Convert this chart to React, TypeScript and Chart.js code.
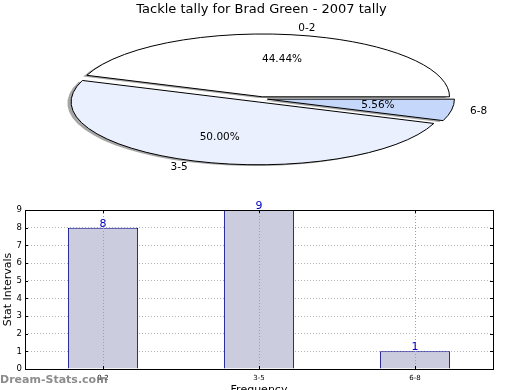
import React, { useEffect, useRef } from "react";
import { Chart, registerables } from "chart.js";

Chart.register(...registerables);

// ---- data ----
const TITLE = "Tackle tally for Brad Green - 2007 tally";
const categories = ["0-2", "3-5", "6-8"];
const counts = [8, 9, 1];
const yTickValues = [0, 1, 2, 3, 4, 5, 6, 7, 8, 9];
const X_TITLE = "Frequency";
const Y_TITLE = "Stat Intervals";
const WATERMARK = "Dream-Stats.com";

// ---- styles ----
const FONT = "'DejaVu Sans', 'Liberation Sans', sans-serif";
const pieColors = ["#ffffff", "#eaf0fd", "#c5d8fc"];
const pieExplode = [6, 10, 6];
const PIE_RADIUS = 187;
const ELLIPSE_K = 0.336;
const SHADOW_DX = -3.7;
const SHADOW_DY = 1.3;
const BAR_FILL = "#ccccdf";
const BAR_EDGE = "#00008b";
const VALUE_COLOR = "#0000c0";

const pieLabels = [...categories].reverse();
const pieValues = [...counts].reverse();
const pieFill = [...pieColors].reverse();
const pieExp = [...pieExplode].reverse();

function ellipseTransform(ctx: CanvasRenderingContext2D, cx: number, cy: number, mid: number, e: number) {
  ctx.translate(cx, cy);
  ctx.scale(1, ELLIPSE_K);
  ctx.translate(Math.cos(mid) * e, Math.sin(mid) * e);
  ctx.translate(-cx, -cy);
}

const ellipsePiePlugin = {
  id: "ellipsePie",
  beforeDatasetsDraw(chart: any) {
    const ctx: CanvasRenderingContext2D = chart.ctx;
    const meta = chart.getDatasetMeta(0);
    const arcs = meta.data;
    const slicePath = (arc: any, i: number, dx: number, dy: number) => {
      const { x, y, startAngle, endAngle, outerRadius } = arc;
      const mid = (startAngle + endAngle) / 2;
      ctx.save();
      ctx.translate(dx, dy);
      ellipseTransform(ctx, x, y, mid, pieExp[i]);
      ctx.beginPath();
      ctx.moveTo(x, y);
      ctx.arc(x, y, outerRadius, startAngle, endAngle);
      ctx.closePath();
      ctx.restore();
    };
    // shadows
    arcs.forEach((arc: any, i: number) => {
      slicePath(arc, i, SHADOW_DX, SHADOW_DY);
      ctx.fillStyle = "rgba(77,77,77,0.5)";
      ctx.fill();
    });
    // slices + outlines
    arcs.forEach((arc: any, i: number) => {
      const mid = (arc.startAngle + arc.endAngle) / 2;
      ctx.save();
      ellipseTransform(ctx, arc.x, arc.y, mid, pieExp[i]);
      arc.draw(ctx);
      ctx.restore();
      slicePath(arc, i, 0, 0);
      ctx.lineWidth = 1;
      ctx.strokeStyle = "#000";
      ctx.lineJoin = "round";
      ctx.stroke();
    });
    // labels
    const total = pieValues.reduce((a, b) => a + b, 0);
    arcs.forEach((arc: any, i: number) => {
      const { x, y, startAngle, endAngle, outerRadius } = arc;
      const mid = (startAngle + endAngle) / 2;
      const c = Math.cos(mid);
      const s = Math.sin(mid);
      const cx = x + c * pieExp[i];
      const cy = y + s * pieExp[i] * ELLIPSE_K;
      ctx.font = `10.5px ${FONT}`;
      ctx.fillStyle = "#000";
      ctx.textBaseline = "middle";
      ctx.textAlign = c > 0 ? "left" : "right";
      ctx.fillText(pieLabels[i], cx + c * 1.1 * outerRadius, cy + s * 1.1 * outerRadius * ELLIPSE_K);
      ctx.textAlign = "center";
      const pct = ((pieValues[i] / total) * 100).toFixed(2) + "%";
      ctx.fillText(pct, cx + c * 0.6 * outerRadius, cy + s * 0.6 * outerRadius * ELLIPSE_K);
    });
    return false;
  },
};

const barFramePlugin = {
  id: "mplFrame",
  afterDatasetsDraw(chart: any) {
    const ctx: CanvasRenderingContext2D = chart.ctx;
    const { top, bottom } = chart.chartArea;
    const xs = chart.scales.x;
    ctx.save();
    ctx.strokeStyle = "#a0a0a0";
    ctx.lineWidth = 1;
    ctx.setLineDash([1, 2]);
    categories.forEach((_, i) => {
      const px = Math.round(xs.getPixelForValue(i)) + 0.5;
      ctx.beginPath();
      ctx.moveTo(px, top);
      ctx.lineTo(px, bottom);
      ctx.stroke();
    });
    ctx.restore();
  },
  afterDraw(chart: any) {
    const ctx: CanvasRenderingContext2D = chart.ctx;
    const { left, right, top, bottom } = chart.chartArea;
    const xs = chart.scales.x;
    const ys = chart.scales.y;
    ctx.save();
    // ticks (inward)
    ctx.strokeStyle = "#000";
    ctx.lineWidth = 1;
    yTickValues.forEach((v) => {
      const py = Math.round(ys.getPixelForValue(v)) + 0.5;
      ctx.beginPath();
      ctx.moveTo(left, py);
      ctx.lineTo(left + 3, py);
      ctx.moveTo(right, py);
      ctx.lineTo(right - 3, py);
      ctx.stroke();
    });
    categories.forEach((_, i) => {
      const px = Math.round(xs.getPixelForValue(i)) + 0.5;
      ctx.beginPath();
      ctx.moveTo(px, bottom);
      ctx.lineTo(px, bottom - 3);
      ctx.moveTo(px, top);
      ctx.lineTo(px, top + 3);
      ctx.stroke();
    });
    // frame
    ctx.strokeRect(Math.round(left) + 0.5, Math.round(top) + 0.5, Math.round(right - left), Math.round(bottom - top));
    // value labels
    ctx.font = `11px ${FONT}`;
    ctx.fillStyle = VALUE_COLOR;
    ctx.textAlign = "center";
    ctx.textBaseline = "bottom";
    counts.forEach((v, i) => {
      ctx.fillText(String(v), xs.getPixelForValue(i), ys.getPixelForValue(v) + 1.5);
    });
    // watermark
    ctx.font = `bold 11px ${FONT}`;
    ctx.fillStyle = "rgba(120,120,120,0.85)";
    ctx.textAlign = "left";
    ctx.textBaseline = "middle";
    ctx.fillText(WATERMARK, 0, bottom + 11);
    ctx.restore();
  },
};

export default function App() {
  const pieRef = useRef<HTMLCanvasElement | null>(null);
  const barRef = useRef<HTMLCanvasElement | null>(null);

  useEffect(() => {
    const pie = new Chart(pieRef.current as HTMLCanvasElement, {
      type: "pie",
      data: {
        labels: pieLabels,
        datasets: [
          {
            data: pieValues,
            backgroundColor: pieFill,
            borderWidth: 0,
            radius: PIE_RADIUS,
          } as any,
        ],
      },
      options: {
        responsive: false,
        animation: false,
        rotation: 90,
        layout: { padding: { left: 3, right: 0, top: 0, bottom: 15 } },
        plugins: {
          legend: { display: false },
          tooltip: { enabled: false },
          title: {
            display: true,
            text: TITLE,
            color: "#000",
            font: { family: FONT, size: 13, weight: "normal" },
            padding: { top: 2, bottom: 0 },
          },
        },
      } as any,
      plugins: [ellipsePiePlugin],
    });

    const bar = new Chart(barRef.current as HTMLCanvasElement, {
      type: "bar",
      data: {
        labels: categories,
        datasets: [
          {
            data: counts,
            backgroundColor: BAR_FILL,
            borderColor: BAR_EDGE,
            borderWidth: 1,
            barPercentage: 0.45,
            categoryPercentage: 1,
          },
        ],
      },
      options: {
        responsive: false,
        animation: false,
        layout: { padding: { left: 0, right: 27, top: 15, bottom: 0 } },
        plugins: {
          legend: { display: false },
          tooltip: { enabled: false },
        },
        scales: {
          x: {
            offset: true,
            grid: { display: false, drawTicks: false },
            border: { display: false },
            ticks: {
              color: "#000",
              font: { family: FONT, size: 7 },
              padding: 5,
              maxRotation: 0,
              autoSkip: false,
            },
            title: {
              display: true,
              text: X_TITLE,
              color: "#000",
              font: { family: FONT, size: 11 },
              padding: 0,
            },
            afterFit: (s: any) => {
              s.height = 28;
            },
          },
          y: {
            min: 0,
            max: 9,
            grid: { color: "#b4b4b4", lineWidth: 1, drawTicks: false },
            border: { display: false, dash: [1, 2] },
            ticks: {
              stepSize: 1,
              color: "#000",
              font: { family: FONT, size: 8.5 },
              padding: 3,
            },
            title: {
              display: true,
              text: Y_TITLE,
              color: "#000",
              font: { family: FONT, size: 11 },
              padding: 2,
            },
            afterFit: (s: any) => {
              s.width = 25;
            },
          },
        },
      } as any,
      plugins: [barFramePlugin],
    });

    return () => {
      pie.destroy();
      bar.destroy();
    };
  }, []);

  return (
    <div
      style={{
        position: "fixed",
        left: 0,
        top: 0,
        width: 520,
        height: 390,
        overflow: "hidden",
        background: "#fff",
      }}
    >
      <canvas
        ref={pieRef}
        width={520}
        height={195}
        style={{ position: "absolute", left: 0, top: 0, width: 520, height: 195 }}
      />
      <canvas
        ref={barRef}
        width={520}
        height={202}
        style={{ position: "absolute", left: 0, top: 195, width: 520, height: 202 }}
      />
    </div>
  );
}
